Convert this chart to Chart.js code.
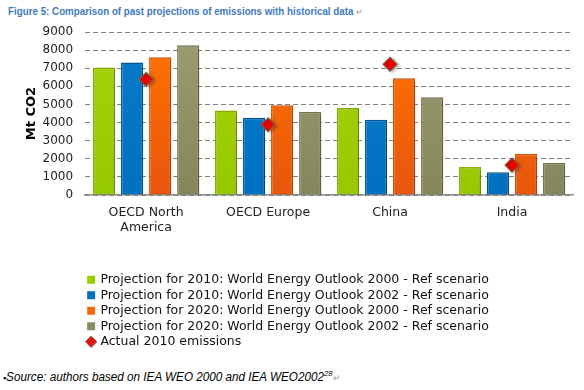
<!DOCTYPE html>
<html>
<head>
<meta charset="utf-8">
<script src="https://cdn.jsdelivr.net/npm/chart.js@4"></script>
<style>
  body { margin: 0; background: #fff; width: 584px; height: 390px; overflow: hidden; position: relative; }
  #title { position: absolute; left: 8px; top: 5px; font: bold 11px "Liberation Sans", sans-serif; color: #3f7ac0; white-space: nowrap; transform: scaleX(0.89); transform-origin: left top; }
  #source { position: absolute; left: 3px; top: 369px; font: italic 12px "Liberation Sans", sans-serif; color: #000; white-space: nowrap; transform: scaleX(0.975); transform-origin: left top; }
  .ret { color: #999; font-style: normal; font-weight: normal; font-size: 9px; }
  #wrap { position: absolute; left: 0; top: 15px; width: 584px; height: 343px; }
</style>
</head>
<body>
<div id="title">Figure 5: Comparison of past projections of emissions with historical data <span class="ret">&#8629;</span></div>
<div id="wrap"><canvas id="emissionsChart"></canvas></div>
<div id="source"><span style="font-style:normal;font-size:9px">&#9642;</span>Source: authors based on IEA WEO 2000 and IEA WEO2002<sup style="font-size:8px">28</sup><span class="ret">&#8629;</span></div>
<script>
// Data (Mt CO2)
const regions = [['OECD North', 'America'], 'OECD Europe', 'China', 'India'];
const proj2010weo2000 = [7040, 4670, 4810, 1540];
const proj2010weo2002 = [7320, 4260, 4150, 1250];
const proj2020weo2000 = [7600, 4960, 6450, 2260];
const proj2020weo2002 = [8270, 4580, 5400, 1760];
const actual2010 = [6380, 3880, 7220, 1650];
const yTicks = [0, 1000, 2000, 3000, 4000, 5000, 6000, 7000, 8000, 9000];

const FONT = 'DejaVu Sans';

// vertical gradient helper for the bevelled bars
function grad(top, bottom) {
    return function (context) {
        const area = context.chart.chartArea;
        if (!area) return bottom;
        const g = context.chart.ctx.createLinearGradient(0, area.top, 0, area.bottom);
        g.addColorStop(0, top);
        g.addColorStop(1, bottom);
        return g;
    };
}

// soft shadow behind bars and diamonds
const shadowPlugin = {
    id: 'shadow',
    beforeDatasetDraw(chart) {
        const ctx = chart.ctx;
        ctx.save();
        ctx.shadowColor = 'rgba(0,0,0,0.25)';
        ctx.shadowBlur = 3;
        ctx.shadowOffsetX = 2;
        ctx.shadowOffsetY = 1;
    },
    afterDatasetDraw(chart) {
        chart.ctx.restore();
    }
};

const barOpts = {
    type: 'bar',
    borderWidth: 1.5,
    barPercentage: 0.79,
    categoryPercentage: 0.92,
    order: 2
};

const ctx = document.getElementById('emissionsChart').getContext('2d');

new Chart(ctx, {
    data: {
        labels: regions,
        datasets: [
            Object.assign({}, barOpts, {
                label: 'Projection for 2010: World Energy Outlook 2000 - Ref scenario',
                data: proj2010weo2000,
                backgroundColor: grad('#a6d40c', '#96c800'),
                borderColor: '#86b000',
                legendColor: '#99cc00'
            }),
            Object.assign({}, barOpts, {
                label: 'Projection for 2010: World Energy Outlook 2002 - Ref scenario',
                data: proj2010weo2002,
                backgroundColor: grad('#0a7aca', '#0070c0'),
                borderColor: '#005a9e',
                legendColor: '#0070c0'
            }),
            Object.assign({}, barOpts, {
                label: 'Projection for 2020: World Energy Outlook 2000 - Ref scenario',
                data: proj2020weo2000,
                backgroundColor: grad('#ff7400', '#e8560e'),
                borderColor: '#d65000',
                legendColor: '#f26a10'
            }),
            Object.assign({}, barOpts, {
                label: 'Projection for 2020: World Energy Outlook 2002 - Ref scenario',
                data: proj2020weo2002,
                backgroundColor: grad('#9c9c72', '#86865c'),
                borderColor: '#74744e',
                legendColor: '#8c8c64'
            }),
            {
                type: 'line',
                label: 'Actual 2010 emissions',
                data: actual2010,
                showLine: false,
                pointStyle: 'rectRot',
                pointRadius: 7,
                pointHoverRadius: 7,
                pointBackgroundColor: '#f00000',
                pointBorderColor: '#8a5a3c',
                pointBorderWidth: 1.2,
                backgroundColor: '#e81010',
                borderColor: '#8a5a3c',
                legendColor: '#e81010',
                order: 1
            }
        ]
    },
    plugins: [shadowPlugin],
    options: {
        responsive: true,
        maintainAspectRatio: false,
        animation: false,
        layout: { padding: { left: 20, right: 11, top: 17, bottom: 0 } },
        plugins: {
            tooltip: { enabled: false },
            legend: {
                position: 'bottom',
                align: 'start',
                fullSize: false,
                labels: {
                    usePointStyle: true,
                    boxWidth: 6,
                    boxHeight: 8,
                    padding: 3,
                    color: '#111',
                    font: { family: FONT, size: 12.5 },
                    generateLabels(chart) {
                        return chart.data.datasets.map((ds, i) => ({
                            text: ds.label,
                            fillStyle: ds.legendColor,
                            strokeStyle: ds.type === 'line' ? '#8a5a3c' : ds.legendColor,
                            lineWidth: ds.type === 'line' ? 1 : 0,
                            pointStyle: ds.type === 'line' ? 'rectRot' : 'rect',
                            fontColor: '#111',
                            hidden: false,
                            datasetIndex: i
                        }));
                    }
                }
            }
        },
        scales: {
            x: {
                grid: { display: false, drawTicks: false },
                border: { display: true, color: '#8c8c8c', width: 1.5 },
                ticks: { color: '#222', font: { family: FONT, size: 12.5 }, padding: 10 },
                afterFit(axis) {
                    axis.height += 25.5;
                }
            },
            y: {
                min: 0,
                max: 9000,
                afterBuildTicks(axis) {
                    axis.ticks = yTicks.map(v => ({ value: v }));
                },
                border: { display: false, dash: [5, 3] },
                grid: {
                    color: '#808080',
                    lineWidth: 1,
                    drawTicks: true,
                    tickLength: 9,
                    tickColor: 'rgba(0,0,0,0)'
                },
                ticks: {
                    color: '#222',
                    font: { family: FONT, size: 12 },
                    padding: 3,
                    callback: v => String(v)
                },
                title: {
                    display: true,
                    text: 'Mt CO2',
                    color: '#000',
                    font: { family: FONT, size: 13, weight: 'bold' },
                    padding: { top: 4, bottom: 0 }
                }
            }
        }
    }
});
</script>
</body>
</html>
